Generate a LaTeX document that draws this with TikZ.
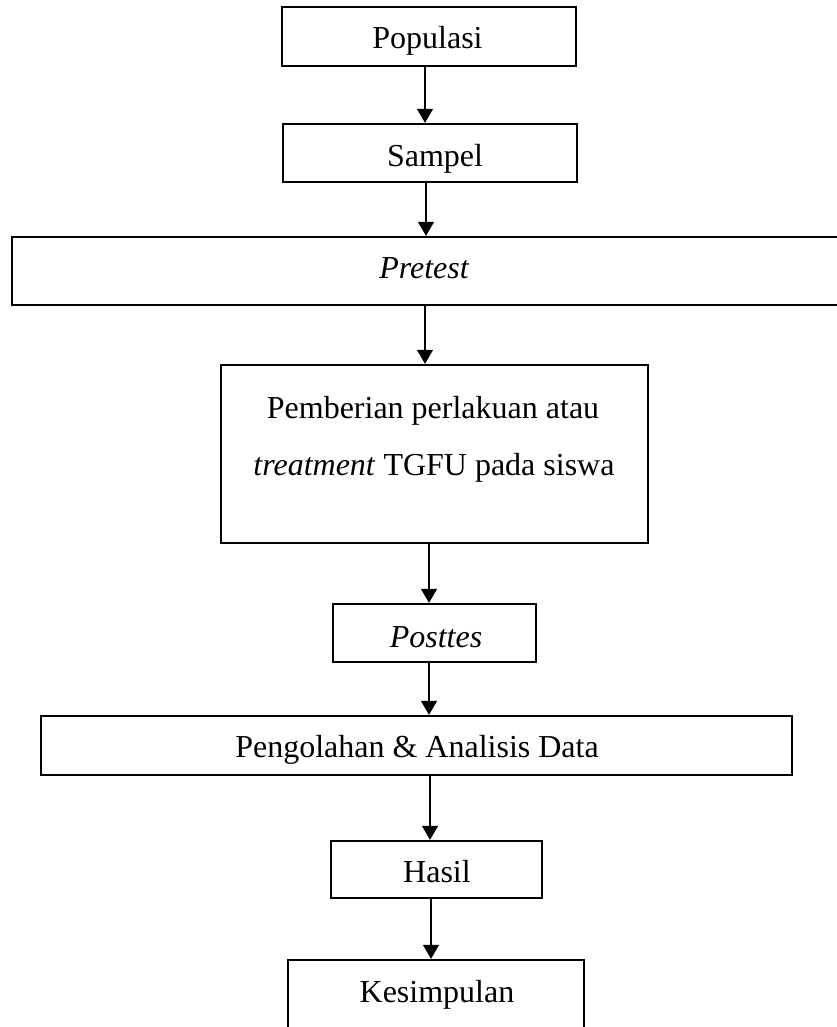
\documentclass[tikz,border=0pt]{standalone}
\usepackage{fontspec}
\setmainfont{Liberation Serif}
\usetikzlibrary{arrows.meta}
\begin{document}
\begin{tikzpicture}[x=1pt,y=-1pt,
  box/.style={draw=black,line width=2.3pt,fill=none,inner sep=0pt,anchor=center},
  txt/.style={anchor=base,inner sep=0pt,font=\fontsize{32}{57}\selectfont},
  arr/.style={line width=1.1pt,-{Triangle[length=14pt,width=16pt]}}]
\clip (0,0) rectangle (837,1027);
\fill[white] (0,0) rectangle (837,1027);
% boxes
\node[box,minimum width=294pt,minimum height=59pt] (pop) at (429,36.5) {};
\node[box,minimum width=294pt,minimum height=58pt] (sam) at (430,153) {};
\node[box,minimum width=838pt,minimum height=68pt] (pre) at (431,271) {};
\node[box,minimum width=427pt,minimum height=178pt] (tre) at (434.5,454) {};
\node[box,minimum width=203pt,minimum height=58pt] (post) at (434.5,633) {};
\node[box,minimum width=751pt,minimum height=59pt] (peng) at (416.5,745.5) {};
\node[box,minimum width=211pt,minimum height=57pt] (has) at (436.5,869.5) {};
\node[box,minimum width=296pt,minimum height=100pt] (kes) at (436,1010) {};
% texts
\node[txt] (tpop) at (427.5,49) {Populasi};
\node[txt] (tsam) at (435,167) {Sampel};
\node[txt] (tpre) at (424,278) {\itshape Pretest};
\node[txt] (ttre1) at (433,418) {Pemberian perlakuan atau};
\node[txt] (ttre2) at (434,475) {\itshape treatment\/\upshape{} TGFU pada siswa};
\node[txt] (tpost) at (436,647) {\itshape Posttes};
\node[txt] (tpeng) at (417,757) {Pengolahan \& Analisis Data};
\node[txt] (thas) at (437,882) {Hasil};
\node[txt] (tkes) at (437,1002) {Kesimpulan};
% arrow columns
\coordinate (c1) at (425,0);
\coordinate (c2) at (426,0);
\coordinate (c3) at (425,0);
\coordinate (c4) at (429,0);
\coordinate (c5) at (429,0);
\coordinate (c6) at (430,0);
\coordinate (c7) at (431,0);
\draw[arr] (pop.south -| c1) -- (sam.north -| c1);
\draw[arr] (sam.south -| c2) -- (pre.north -| c2);
\draw[arr] (pre.south -| c3) -- (tre.north -| c3);
\draw[arr] (tre.south -| c4) -- (post.north -| c4);
\draw[arr] (post.south -| c5) -- (peng.north -| c5);
\draw[arr] (peng.south -| c6) -- (has.north -| c6);
\draw[arr] (has.south -| c7) -- (kes.north -| c7);
\end{tikzpicture}
\end{document}
